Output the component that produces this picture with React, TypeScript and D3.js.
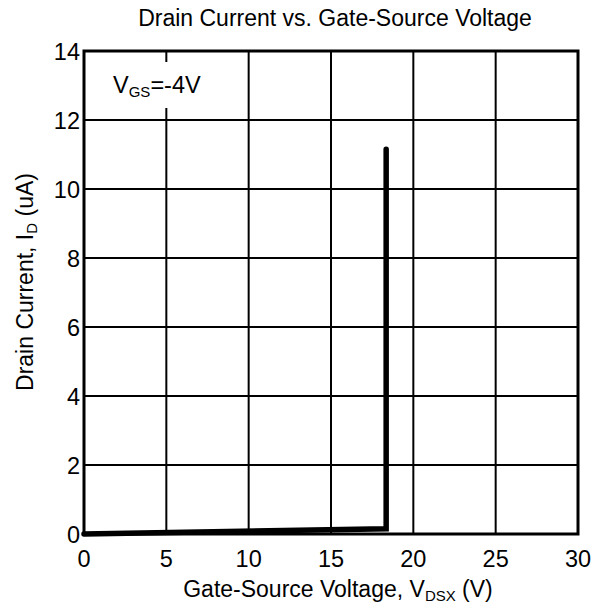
import React, { useEffect, useRef } from "react";
import * as d3 from "d3";

// data
const vdsValues = [0, 18.35, 18.35];
const idValues = [0, 0.15, 11.15];
const xTicks = [0, 5, 10, 15, 20, 25, 30];
const yTicks = [0, 2, 4, 6, 8, 10, 12, 14];

export default function App() {
  const ref = useRef<SVGSVGElement>(null);

  useEffect(() => {
    const svg = d3.select(ref.current);
    svg.selectAll("*").remove();

    const width = 592;
    const height = 610;
    const margin = { top: 51, right: 14, bottom: 76, left: 84 };

    const x = d3.scaleLinear().domain([0, 30]).range([margin.left, width - margin.right]);
    const y = d3.scaleLinear().domain([0, 14]).range([height - margin.bottom, margin.top]);

    const font = "Liberation Sans, Arial, sans-serif";
    const fs = 23.5;
    const sub = 15;

    // grid
    const grid = svg.append("g").attr("stroke", "#000").attr("stroke-width", 2);
    grid
      .selectAll("line.v")
      .data(xTicks)
      .join("line")
      .attr("class", "v")
      .attr("x1", (d) => x(d))
      .attr("x2", (d) => x(d))
      .attr("y1", y(0))
      .attr("y2", y(14));
    grid
      .selectAll("line.h")
      .data(yTicks)
      .join("line")
      .attr("class", "h")
      .attr("x1", x(0))
      .attr("x2", x(30))
      .attr("y1", (d) => y(d))
      .attr("y2", (d) => y(d));

    // label box
    svg
      .append("rect")
      .attr("x", x(0.6))
      .attr("y", 62)
      .attr("width", x(7.8) - x(0.6))
      .attr("height", 46)
      .attr("fill", "#fff");
    const lbl = svg
      .append("text")
      .attr("x", 113)
      .attr("y", 93)
      .attr("font-family", font)
      .attr("font-size", fs);
    lbl.append("tspan").text("V");
    lbl.append("tspan").attr("font-size", sub).attr("dy", 4).text("GS");
    lbl.append("tspan").attr("dy", -4).text("=-4V");

    // frame
    svg
      .append("rect")
      .attr("x", x(0))
      .attr("y", y(14))
      .attr("width", x(30) - x(0))
      .attr("height", y(0) - y(14))
      .attr("fill", "none")
      .attr("stroke", "#000")
      .attr("stroke-width", 3);

    // curve
    const pts = vdsValues.map((v, i) => [v, idValues[i]] as [number, number]);
    svg
      .append("path")
      .datum(pts)
      .attr("fill", "none")
      .attr("stroke", "#000")
      .attr("stroke-width", 5.5)
      .attr("stroke-linecap", "round")
      .attr(
        "d",
        d3
          .line<[number, number]>()
          .x((d) => x(d[0]))
          .y((d) => y(d[1]))
      );

    // tick labels
    svg
      .append("g")
      .attr("font-family", font)
      .attr("font-size", fs)
      .attr("text-anchor", "middle")
      .selectAll("text")
      .data(xTicks)
      .join("text")
      .attr("x", (d) => x(d))
      .attr("y", 567)
      .text((d) => d);
    svg
      .append("g")
      .attr("font-family", font)
      .attr("font-size", fs)
      .attr("text-anchor", "end")
      .selectAll("text")
      .data(yTicks)
      .join("text")
      .attr("x", x(0) - 4)
      .attr("y", (d) => y(d) + 8.5)
      .text((d) => d);

    // title
    svg
      .append("text")
      .attr("x", 335)
      .attr("y", 26)
      .attr("text-anchor", "middle")
      .attr("font-family", font)
      .attr("font-size", 23)
      .text("Drain Current vs. Gate-Source Voltage");

    // x label
    const xl = svg
      .append("text")
      .attr("x", 338)
      .attr("y", 597)
      .attr("text-anchor", "middle")
      .attr("font-family", font)
      .attr("font-size", 23);
    xl.append("tspan").text("Gate-Source Voltage, V");
    xl.append("tspan").attr("font-size", sub).attr("dy", 4).text("DSX");
    xl.append("tspan").attr("dy", -4).text(" (V)");

    // y label
    const yl = svg
      .append("text")
      .attr("transform", "translate(33,282) rotate(-90)")
      .attr("text-anchor", "middle")
      .attr("font-family", font)
      .attr("font-size", 23);
    yl.append("tspan").text("Drain Current, I");
    yl.append("tspan").attr("font-size", sub).attr("dy", 4).text("D");
    yl.append("tspan").attr("dy", -4).text(" (uA)");
  }, []);

  return (
    <svg
      ref={ref}
      width={592}
      height={610}
      style={{ position: "absolute", left: 0, top: 0, background: "#fff" }}
    />
  );
}
